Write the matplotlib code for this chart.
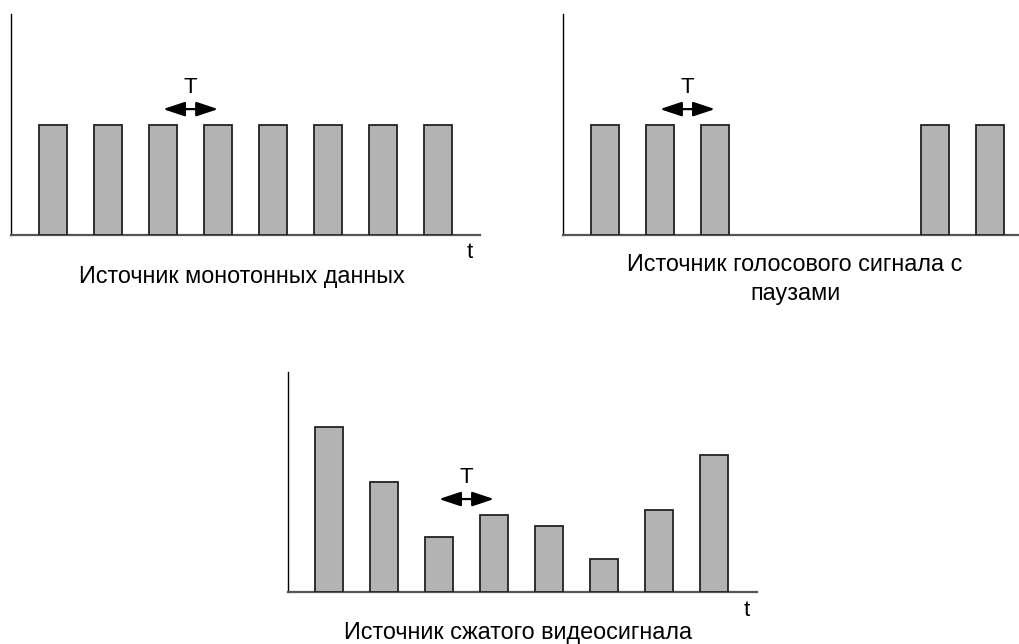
import matplotlib.pyplot as plt

W, H = 1019, 644

# bar heights in arbitrary units (one unit ~ 1/10 of the nominal pulse)
mono_pos = [0, 1, 2, 3, 4, 5, 6, 7]
mono_h = [10, 10, 10, 10, 10, 10, 10, 10]

voice_pos = [0, 1, 2, 6, 7]
voice_h = [10, 10, 10, 10, 10]

video_pos = [0, 1, 2, 3, 4, 5, 6, 7]
video_h = [15, 10, 5, 7, 6, 3, 7.5, 12.5]

captions = [
    "Источник монотонных данных",
    "Источник голосового сигнала с\nпаузами",
    "Источник сжатого видеосигнала",
]

plt.rcParams["font.family"] = ["Liberation Sans", "DejaVu Sans"]

fig = plt.figure(figsize=(W / 100, H / 100), dpi=100)


def px_axes(x0, y_top, x1, y_bot):
    """Axes placed by pixel box (y measured from top of image)."""
    return fig.add_axes([x0 / W, 1 - y_bot / H, (x1 - x0) / W, (y_bot - y_top) / H])


def draw_panel(ax, pos, heights, xlim, ylim, arrow_i, arrow_y):
    ax.bar(pos, heights, width=0.51, color="#b3b3b3", edgecolor="#222222",
           linewidth=1.3, zorder=3)
    ax.set_xlim(*xlim)
    ax.set_ylim(*ylim)
    for s in ("top", "right"):
        ax.spines[s].set_visible(False)
    ax.spines["left"].set_color("black")
    ax.spines["left"].set_linewidth(1.0)
    ax.spines["bottom"].set_color("#555555")
    ax.spines["bottom"].set_linewidth(1.6)
    ax.set_xticks([])
    ax.set_yticks([])
    ax.annotate("", xy=(arrow_i + 1, arrow_y), xytext=(arrow_i, arrow_y),
                arrowprops=dict(arrowstyle="<|-|>,head_length=0.6,head_width=0.2",
                                color="black", lw=1.6,
                                mutation_scale=22, shrinkA=0, shrinkB=0))
    ax.text(arrow_i + 0.5, arrow_y + 1.95, "T", ha="center", va="center",
            fontsize=16)


ax1 = px_axes(11, 14, 480, 235)
draw_panel(ax1, mono_pos, mono_h, (-0.764, 7.76), (0, 20.1), 2, 11.45)

ax2 = px_axes(563, 14, 1019, 235)
draw_panel(ax2, voice_pos, voice_h, (-0.764, 7.53), (0, 20.1), 1, 11.45)

ax3 = px_axes(288, 372, 757, 592)
draw_panel(ax3, video_pos, video_h, (-0.745, 7.78), (0, 20.0), 2, 8.45)

# time labels
fig.text(470 / W, 1 - 252 / H, "t", ha="center", va="center", fontsize=16)
fig.text(747 / W, 1 - 610 / H, "t", ha="center", va="center", fontsize=16)

# captions
fig.text(242 / W, 1 - 277 / H, captions[0], ha="center", va="center", fontsize=16.8)
fig.text(795 / W, 1 - 279 / H, captions[1], ha="center", va="center",
         fontsize=16.8, linespacing=1.3)
fig.text(518 / W, 1 - 633 / H, captions[2], ha="center", va="center", fontsize=16.8)

fig.savefig("out.png", dpi=100)
